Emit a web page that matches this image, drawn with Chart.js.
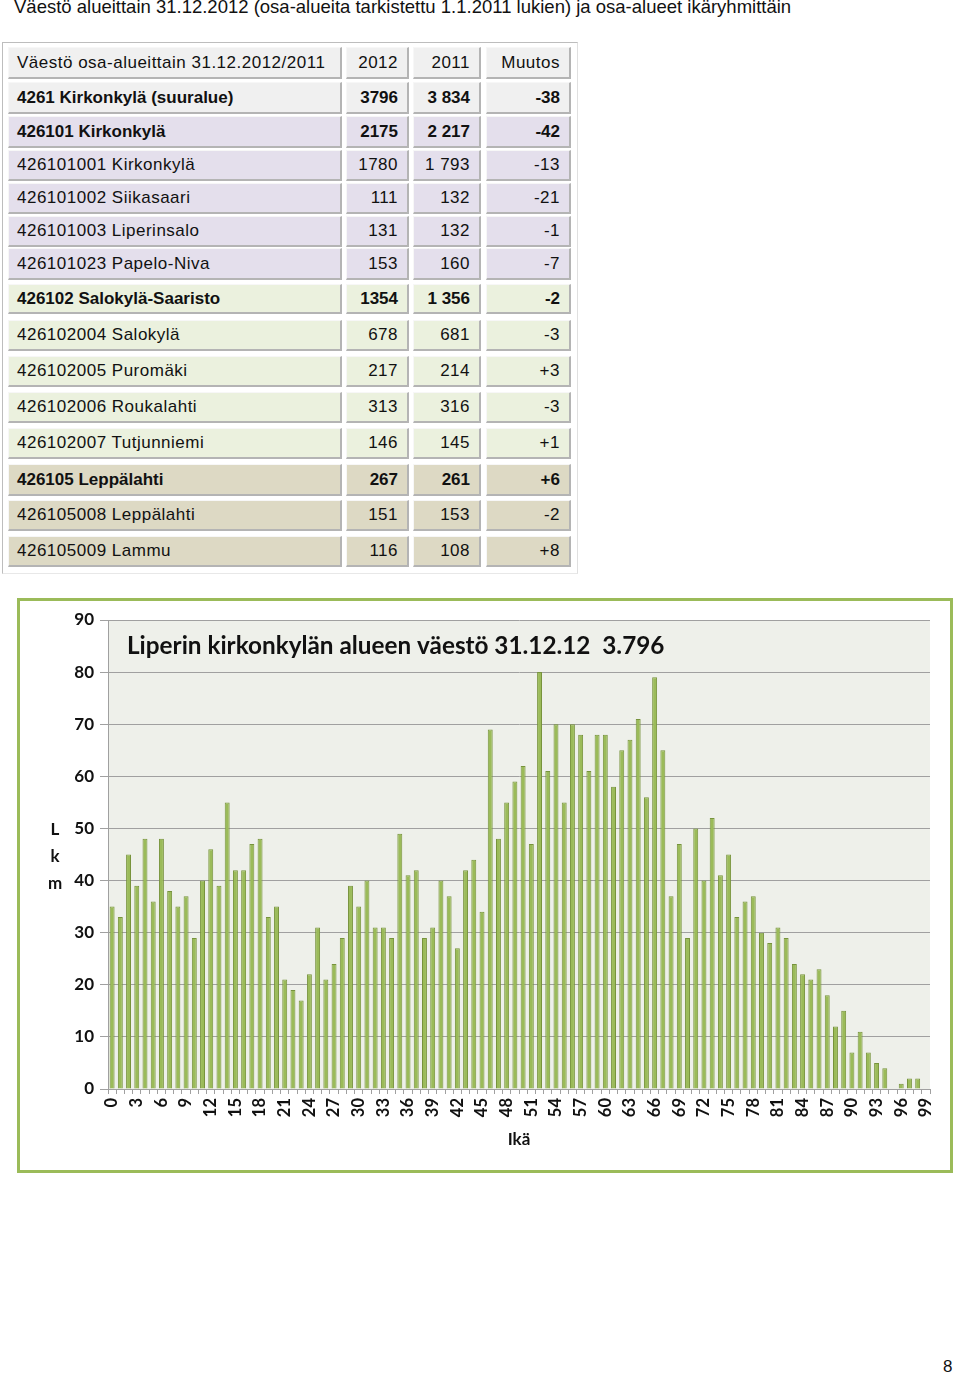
<!DOCTYPE html>
<html>
<head>
<meta charset="utf-8">
<script src="https://cdn.jsdelivr.net/npm/chart.js@4.4.1/dist/chart.umd.min.js"></script>
<style>
  html, body { margin: 0; padding: 0; background: #fff; }
  body { width: 960px; height: 1378px; position: relative; overflow: hidden; font-family: "Liberation Sans", Arial, sans-serif; color: #111; }
  #heading { position: absolute; left: 14px; top: -4px; font-size: 18.5px; white-space: nowrap; }
  #tbl { position: absolute; left: 2px; top: 42px; width: 574px; height: 530px; border-top: 1px solid #bdbdbd; border-left: 1px solid #bdbdbd; border-right: 1px solid #e0e0e0; border-bottom: 1px solid #e8e8e8; }
  .cell { position: absolute; box-sizing: border-box; font-size: 17px; white-space: nowrap; letter-spacing: 0.5px;
          border-top: 1px solid #f7f7f7; border-left: 1px solid #f7f7f7; border-right: 2px solid #b4b4b4; border-bottom: 2px solid #b4b4b4; }
  .name { padding-left: 8px; }
  .num { text-align: right; padding-right: 9px; }
  .bold { font-weight: bold; letter-spacing: 0; }
  #chartbox { position: absolute; left: 17px; top: 598px; width: 930px; height: 569px; border: 3px solid #9bbb59; }
  #chartbox canvas { display: block; }
  #pageno { position: absolute; left: 943px; top: 1357px; font-size: 17px; }
</style>
</head>
<body>
<div id="heading">Väestö alueittain 31.12.2012 (osa-alueita tarkistettu 1.1.2011 lukien) ja osa-alueet ikäryhmittäin</div>
<div id="tbl"></div>
<div id="chartbox"><canvas id="c" width="930" height="569"></canvas></div>
<div id="pageno">8</div>
<script>
// ---- Table data ----
const tableHeader = ["Väestö osa-alueittain 31.12.2012/2011", "2012", "2011", "Muutos"];
const areaNames = [
  "4261 Kirkonkylä (suuralue)",
  "426101 Kirkonkylä",
  "426101001 Kirkonkylä",
  "426101002 Siikasaari",
  "426101003 Liperinsalo",
  "426101023 Papelo-Niva",
  "426102 Salokylä-Saaristo",
  "426102004 Salokylä",
  "426102005 Puromäki",
  "426102006 Roukalahti",
  "426102007 Tutjunniemi",
  "426105 Leppälahti",
  "426105008 Leppälahti",
  "426105009 Lammu"
];
const pop2012 = ["3796", "2175", "1780", "111", "131", "153", "1354", "678", "217", "313", "146", "267", "151", "116"];
const pop2011 = ["3 834", "2 217", "1 793", "132", "132", "160", "1 356", "681", "214", "316", "145", "261", "153", "108"];
const change = ["-38", "-42", "-13", "-21", "-1", "-7", "-2", "-3", "+3", "-3", "+1", "+6", "-2", "+8"];
const rowGroup = ["top", "kirk", "kirk", "kirk", "kirk", "kirk", "salo", "salo", "salo", "salo", "salo", "lepp", "lepp", "lepp"];
const rowBold = [true, true, false, false, false, false, true, false, false, false, false, true, false, false];

// ---- Chart data ----
const ages = Array.from({length: 100}, (_, i) => String(i));
const counts = [
  35, 33, 45, 39, 48, 36, 48, 38, 35, 37,
  29, 40, 46, 39, 55, 42, 42, 47, 48, 33,
  35, 21, 19, 17, 22, 31, 21, 24, 29, 39,
  35, 40, 31, 31, 29, 49, 41, 42, 29, 31,
  40, 37, 27, 42, 44, 34, 69, 48, 55, 59,
  62, 47, 80, 61, 70, 55, 70, 68, 61, 68,
  68, 58, 65, 67, 71, 56, 79, 65, 37, 47,
  29, 50, 40, 52, 41, 45, 33, 36, 37, 30,
  28, 31, 29, 24, 22, 21, 23, 18, 12, 15,
  7, 11, 7, 5, 4, 0, 1, 2, 2, 0
];
const yTicks = [0, 10, 20, 30, 40, 50, 60, 70, 80, 90];
const chartTitle = "Liperin kirkonkylän alueen väestö 31.12.12  3.796";
const yAxisLetters = ["L", "k", "m"];
const xAxisTitle = "Ikä";

// ---- Build table ----
const groupColors = { head: "#f0f0f0", top: "#f0f0f0", kirk: "#e4dfec", salo: "#ebf1de", lepp: "#ddd9c4" };
const colX = [5, 343, 410, 483];      // relative to #tbl
const colW = [334, 63, 68, 85];
const rowTops = [4, 39, 73, 107, 140, 173, 205, 241, 277, 313, 349, 385, 421, 457, 493]; // relative to #tbl
const rowH = [32, 32, 32, 31, 31, 31, 32, 30, 31, 31, 31, 31, 32, 31, 31];
const tbl = document.getElementById("tbl");
function addCell(r, c, text, bg, bold) {
  const d = document.createElement("div");
  d.className = "cell " + (c === 0 ? "name" : "num") + (bold ? " bold" : "");
  d.style.left = colX[c] + "px";
  d.style.top = rowTops[r] + "px";
  d.style.width = colW[c] + "px";
  d.style.height = rowH[r] + "px";
  d.style.lineHeight = (rowH[r] - 3) + "px";
  d.style.background = bg;
  d.textContent = text;
  tbl.appendChild(d);
}
tableHeader.forEach((t, c) => addCell(0, c, t, groupColors.head, false));
areaNames.forEach((n, i) => {
  const bg = groupColors[rowGroup[i]];
  addCell(i + 1, 0, n, bg, rowBold[i]);
  addCell(i + 1, 1, pop2012[i], bg, rowBold[i]);
  addCell(i + 1, 2, pop2011[i], bg, rowBold[i]);
  addCell(i + 1, 3, change[i], bg, rowBold[i]);
});

// ---- Chart ----
const chartFont = "Lato, 'Open Sans', sans-serif";
const plotBg = {
  id: "plotBg",
  beforeDraw(chart) {
    const a = chart.chartArea, ctx = chart.ctx;
    ctx.save();
    ctx.fillStyle = "#eef0ea";
    ctx.fillRect(a.left, a.top, a.right - a.left, a.bottom - a.top);
    ctx.restore();
  },
  afterDraw(chart) {
    const a = chart.chartArea, ctx = chart.ctx;
    ctx.save();
    ctx.fillStyle = "#111";
    ctx.font = "bold 24.3px " + chartFont;
    ctx.textBaseline = "middle";
    ctx.textAlign = "left";
    ctx.fillText(chartTitle, a.left + 19, a.top + 26);
    ctx.font = "bold 17px " + chartFont;
    ctx.textAlign = "center";
    yAxisLetters.forEach((ch, i) => ctx.fillText(ch, 35, 229 + i * 27));
    ctx.restore();
  }
};

new Chart(document.getElementById("c"), {
  type: "bar",
  data: {
    labels: ages,
    datasets: [{
      data: counts,
      backgroundColor: "#9bbb59",
      borderColor: "#77933c",
      borderWidth: 1,
      categoryPercentage: 1,
      barPercentage: 0.6
    }]
  },
  options: {
    responsive: false,
    animation: false,
    layout: { padding: { top: 19, right: 20, left: 0, bottom: 0 } },
    plugins: { legend: { display: false }, tooltip: { enabled: false }, title: { display: false } },
    scales: {
      x: {
        offset: true,
        afterFit(s) { s.height = 81; },
        grid: { display: true, drawOnChartArea: false, drawTicks: true, tickLength: 5, offset: true, color: "#a0a0a0" },
        border: { display: true, color: "#a0a0a0", width: 1 },
        ticks: {
          autoSkip: false, minRotation: 90, maxRotation: 90, padding: 4,
          color: "#111", font: { family: chartFont, weight: "bold", size: 16.5 },
          callback(v, i) { return i % 3 === 0 ? ages[i] : ""; }
        },
        title: { display: true, text: xAxisTitle, color: "#111", font: { family: chartFont, weight: "bold", size: 17 }, padding: { top: 0, bottom: 20 } }
      },
      y: {
        min: 0, max: 90,
        afterFit(s) { s.width = 88; },
        afterBuildTicks(s) { s.ticks = yTicks.map(v => ({ value: v })); },
        grid: { color: "#a0a0a0", lineWidth: 1, tickLength: 8 },
        border: { display: true, color: "#a0a0a0", width: 1 },
        ticks: { padding: 6, color: "#111", font: { family: chartFont, weight: "bold", size: 17 } }
      }
    }
  },
  plugins: [plotBg]
});
</script>
</body>
</html>
